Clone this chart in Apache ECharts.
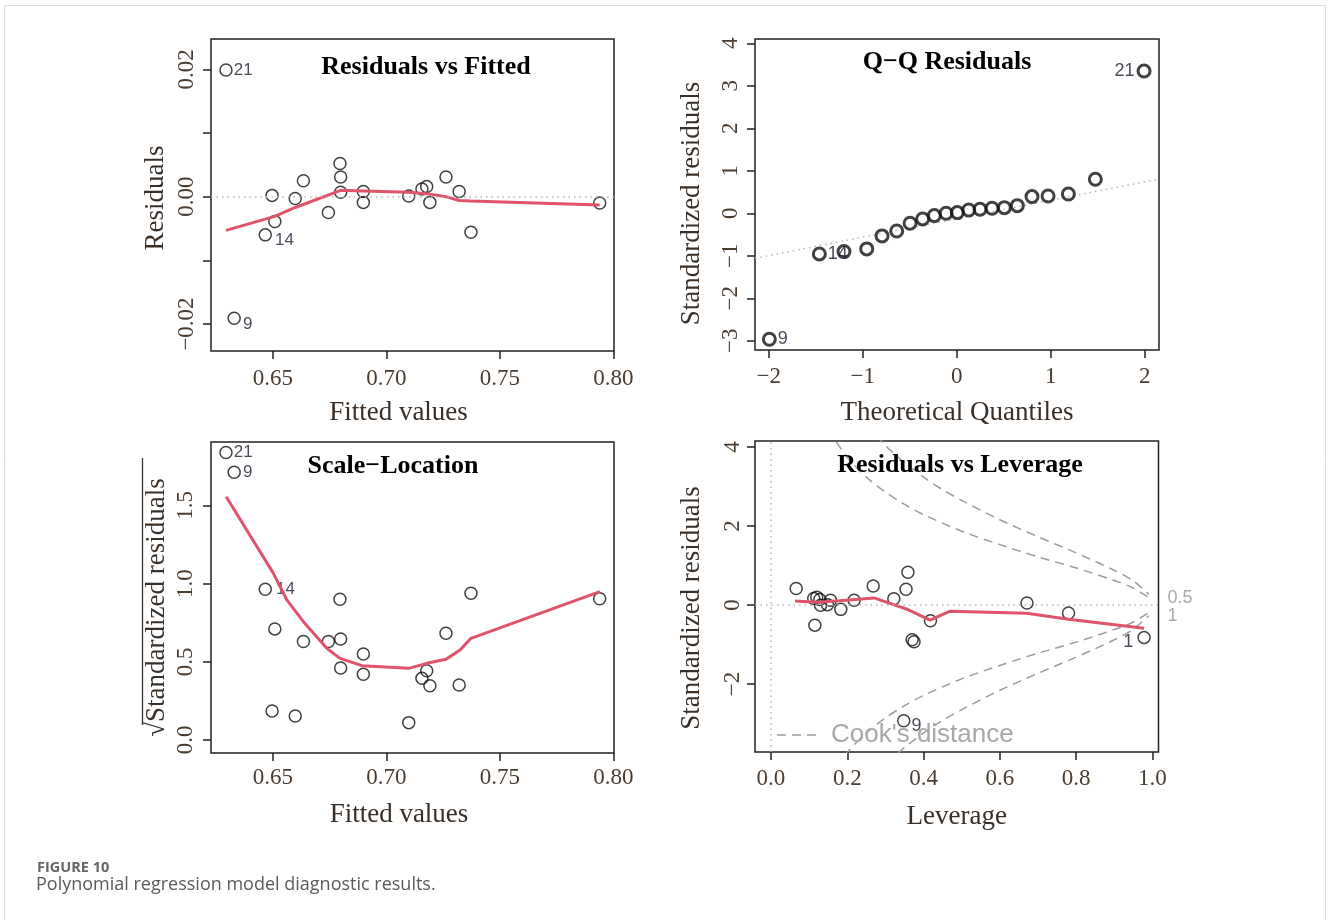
<!DOCTYPE html>
<html>
<head>
<meta charset="utf-8">
<title>Polynomial regression model diagnostic results</title>
<script src="https://cdn.jsdelivr.net/npm/echarts@6.0.0/dist/echarts.min.js"></script>
<style>
  html, body { margin: 0; padding: 0; background: #fff; }
  #chart { width: 1328px; height: 920px; }
</style>
</head>
<body>
<div id="chart"></div>
<script>
// values
var fitted = [0.6294, 0.6330, 0.6467, 0.6497, 0.6509, 0.6599, 0.6635, 0.6745, 0.6796, 0.6799, 0.6799,
              0.6899, 0.6899, 0.7099, 0.7157, 0.7178, 0.7192, 0.7263, 0.7321, 0.7373, 0.7940];
var residuals = [0.0199, -0.0191, -0.0060, 0.0002, -0.0039, -0.0003, 0.0025, -0.0025, 0.0052, 0.0031, 0.0007,
                 0.0008, -0.0009, 0.0001, 0.0012, 0.0016, -0.0009, 0.0031, 0.0008, -0.0056, -0.0010];
var sqrtStdResid = [1.837, 1.711, 0.963, 0.185, 0.710, 0.153, 0.629, 0.629, 0.899, 0.646, 0.460,
                    0.550, 0.420, 0.111, 0.394, 0.443, 0.347, 0.682, 0.352, 0.938, 0.903];
var fittedIds = ['21', '9', '14', '', '', '', '', '', '', '', '', '', '', '', '', '', '', '', '', '', ''];

var resSmoothX = [0.6294, 0.6509, 0.6599, 0.6799, 0.6899, 0.7099, 0.7192, 0.7263, 0.7321, 0.7373, 0.7940];
var resSmoothY = [-0.0053, -0.0031, -0.0017, 0.0010, 0.0009, 0.0007, 0.0004, 0.0000, -0.0006, -0.0007, -0.0013];

var slSmoothX = [0.6295, 0.6503, 0.6562, 0.6635, 0.6738, 0.6796, 0.6893, 0.7099, 0.7178, 0.7263, 0.7325, 0.7373, 0.7941];
var slSmoothY = [1.555, 1.065, 0.895, 0.756, 0.586, 0.522, 0.475, 0.458, 0.490, 0.516, 0.575, 0.650, 0.948];

var qqTheoretical = [-1.993, -1.461, -1.199, -0.957, -0.794, -0.638, -0.496, -0.362, -0.238, -0.113, 0.007,
                     0.128, 0.248, 0.376, 0.507, 0.645, 0.801, 0.972, 1.188, 1.475, 1.993];
var qqStdResid = [-2.965, -0.957, -0.902, -0.839, -0.533, -0.416, -0.235, -0.133, -0.055, 0.000, 0.016,
                  0.078, 0.094, 0.118, 0.133, 0.180, 0.392, 0.408, 0.455, 0.800, 3.349];
var qqIds = ['9', '14', '', '', '', '', '', '', '', '', '', '', '', '', '', '', '', '', '', '', '21'];
var qqLineX = [-2.146, 2.152];
var qqLineY = [-1.059, 0.806];

var leverage = [0.066, 0.112, 0.120, 0.128, 0.115, 0.130, 0.148, 0.156, 0.183, 0.218, 0.268,
                0.322, 0.354, 0.359, 0.370, 0.375, 0.348, 0.418, 0.671, 0.780, 0.978];
var levStdResid = [0.42, 0.165, 0.20, 0.14, -0.51, -0.005, 0.01, 0.12, -0.11, 0.12, 0.48,
                   0.16, 0.40, 0.83, -0.88, -0.93, -2.93, -0.40, 0.05, -0.20, -0.82];
var levIds = ['', '', '', '', '', '', '', '', '', '', '', '', '', '', '', '', '9', '', '', '', '1'];
var levSmoothX = [0.063, 0.12, 0.18, 0.27, 0.355, 0.417, 0.468, 0.67, 0.78, 0.978];
var levSmoothY = [0.10, 0.07, 0.11, 0.18, -0.10, -0.38, -0.16, -0.21, -0.36, -0.59];

// Cook's distance contours (0.5 and 1)
var cook05H = [0.15, 0.2, 0.25, 0.3, 0.35, 0.4, 0.5, 0.6, 0.7, 0.8, 0.9, 0.95, 0.99];
var cook05Up = [4.45, 3.74, 3.24, 2.86, 2.55, 2.29, 1.87, 1.53, 1.22, 0.94, 0.62, 0.43, 0.19];
var cook05Down = [-4.45, -3.74, -3.24, -2.86, -2.55, -2.29, -1.87, -1.53, -1.22, -0.94, -0.62, -0.43, -0.19];
var cook1H = [0.25, 0.3, 0.35, 0.4, 0.45, 0.5, 0.6, 0.7, 0.8, 0.9, 0.95, 0.99];
var cook1Up = [4.58, 4.04, 3.61, 3.24, 2.92, 2.65, 2.16, 1.73, 1.32, 0.88, 0.61, 0.27];
var cook1Down = [-4.58, -4.04, -3.61, -3.24, -2.92, -2.65, -2.16, -1.73, -1.32, -0.88, -0.61, -0.27];
var cookLabelAt = [0.18, -0.28];
var cookLabelText = ['0.5', '1'];

// tick values
var fittedTicks = [0.65, 0.70, 0.75, 0.80];
var residTicks = [-0.02, -0.01, 0, 0.01, 0.02];
var residLabels = [-0.02, 0, 0.02];
var qqXTicks = [-2, -1, 0, 1, 2];
var qqYTicks = [-3, -2, -1, 0, 1, 2, 3, 4];
var slYTicks = [0, 0.5, 1.0, 1.5];
var levXTicks = [0, 0.2, 0.4, 0.6, 0.8, 1.0];
var levYTicks = [-2, 0, 2, 4];

var SERIF = '"Liberation Serif", "Times New Roman", serif';
var SANS = '"Liberation Sans", Arial, sans-serif';
var CAPTION = '"Open Sans", "Noto Sans", sans-serif';
var RED = '#DF536B';
var TICK_COLOR = '#4b3c30';
var NAME_COLOR = '#3a3028';

function zip(xs, ys) {
    return xs.map(function (x, i) { return [x, ys[i]]; });
}

function fmt(digits) {
    return function (v) { return v.toFixed(digits).replace('-', '\u2212'); };
}

function pointData(xs, ys, ids, spots) {
    return xs.map(function (x, i) {
        var item = { value: [x, ys[i]] };
        var s = spots[ids[i]];
        if (ids[i] && s) {
            item.name = ids[i];
            item.label = { show: true, position: s[0], distance: s[1], offset: [0, s[2]] };
        }
        return item;
    });
}

function makeAxis(opt) {
    var isY = opt.dim === 'y';
    return {
        gridIndex: opt.grid,
        type: 'value',
        min: opt.min,
        max: opt.max,
        position: isY ? 'left' : 'bottom',
        axisLine: { show: false, onZero: false },
        splitLine: { show: false },
        axisTick: {
            show: true, inside: false, length: 8,
            customValues: opt.ticks,
            lineStyle: { color: '#222', width: 1.5 }
        },
        axisLabel: {
            customValues: opt.labels || opt.ticks,
            formatter: fmt(opt.digits),
            rotate: isY ? 90 : 0,
            margin: opt.margin,
            fontFamily: SERIF,
            fontSize: 23,
            color: TICK_COLOR
        },
        name: opt.name,
        nameLocation: 'middle',
        nameGap: opt.nameGap,
        nameRotate: isY ? 90 : 0,
        nameTextStyle: {
            fontFamily: SERIF,
            fontSize: 27,
            color: NAME_COLOR,
            padding: opt.namePad || 0
        }
    };
}

function scatter(ax, xs, ys, ids, spots, thick, labelSize) {
    return {
        type: 'scatter',
        xAxisIndex: ax, yAxisIndex: ax,
        symbol: 'circle',
        symbolSize: 12,
        silent: true,
        z: 3,
        itemStyle: { color: 'rgba(0,0,0,0)', borderColor: '#111', borderWidth: thick },
        label: { show: false, formatter: '{b}', color: '#161b2e', fontFamily: SANS, fontSize: labelSize },
        data: pointData(xs, ys, ids, spots)
    };
}

function redLine(ax, xs, ys) {
    return {
        type: 'line', xAxisIndex: ax, yAxisIndex: ax,
        symbol: 'none', silent: true, z: 4,
        lineStyle: { color: RED, width: 3 },
        data: zip(xs, ys)
    };
}

function cookLine(xs, ys) {
    return {
        type: 'line', xAxisIndex: 3, yAxisIndex: 3,
        symbol: 'none', silent: true, smooth: 0.3, clip: true, z: 2,
        lineStyle: { color: '#9c9c9c', width: 1.5, type: [9, 6] },
        data: zip(xs, ys)
    };
}

var dotted = { color: '#b5b5b5', width: 1.5, type: [1.5, 4] };

function refLines(list) {
    return { silent: true, symbol: 'none', label: { show: false }, lineStyle: dotted, data: list };
}

function titleAt(text, cx, cy) {
    return {
        text: text, left: cx, top: cy - 14, textAlign: 'center', padding: 0,
        textStyle: { fontFamily: SERIF, fontWeight: 'bold', fontSize: 26, color: '#000' }
    };
}

var gridStyle = { show: true, borderColor: '#222', borderWidth: 1.5, backgroundColor: 'transparent', outerBoundsMode: 'none', containLabel: false };

var option = {
    animation: false,
    backgroundColor: '#fff',
    title: [
        titleAt('Residuals vs Fitted', 426, 68),
        titleAt('Q\u2212Q Residuals', 947, 63),
        titleAt('Scale\u2212Location', 393, 467),
        titleAt('Residuals vs Leverage', 960, 466),
        {
            text: 'FIGURE 10', left: 37, top: 860, padding: 0,
            textStyle: { fontFamily: CAPTION, fontWeight: 'bold', fontSize: 14.5, color: '#666' }
        },
        {
            text: 'Polynomial regression model diagnostic results.', left: 36, top: 876, padding: 0,
            textStyle: { fontFamily: CAPTION, fontWeight: 'normal', fontSize: 18, color: '#5a5a5a' }
        }
    ],
    grid: [
        Object.assign({ left: 211, top: 39, width: 403, height: 312 }, gridStyle),
        Object.assign({ left: 755, top: 39, width: 404, height: 311 }, gridStyle),
        Object.assign({ left: 211, top: 442, width: 403, height: 311 }, gridStyle),
        Object.assign({ left: 755, top: 441, width: 403.5, height: 311 }, gridStyle)
    ],
    xAxis: [
        makeAxis({ dim: 'x', grid: 0, min: 0.6228, max: 0.8003, ticks: fittedTicks, digits: 2, margin: 16,
                   name: 'Fitted values', nameGap: 48, namePad: [0, 28, 0, 0] }),
        makeAxis({ dim: 'x', grid: 1, min: -2.1456, max: 2.152, ticks: qqXTicks, digits: 0, margin: 15,
                   name: 'Theoretical Quantiles', nameGap: 49 }),
        makeAxis({ dim: 'x', grid: 2, min: 0.6228, max: 0.8003, ticks: fittedTicks, digits: 2, margin: 13,
                   name: 'Fitted values', nameGap: 48, namePad: [0, 27, 0, 0] }),
        makeAxis({ dim: 'x', grid: 3, min: -0.0419, max: 1.0158, ticks: levXTicks, digits: 1, margin: 15,
                   name: 'Leverage', nameGap: 51 })
    ],
    yAxis: [
        makeAxis({ dim: 'y', grid: 0, min: -0.02424, max: 0.02476, ticks: residTicks, labels: residLabels, digits: 2,
                   margin: 13, name: 'Residuals', nameGap: 42, namePad: [0, 6, 0, 0] }),
        makeAxis({ dim: 'y', grid: 1, min: -3.218, max: 4.102, ticks: qqYTicks, digits: 0,
                   margin: 13, name: 'Standardized residuals', nameGap: 50, namePad: [0, 18, 0, 0] }),
        makeAxis({ dim: 'y', grid: 2, min: -0.0831, max: 1.9045, ticks: slYTicks, digits: 1,
                   margin: 14, name: '\u221AStandardized residuals', nameGap: 41, namePad: [0, 20, 0, 0] }),
        makeAxis({ dim: 'y', grid: 3, min: -3.723, max: 4.155, ticks: levYTicks, digits: 0,
                   margin: 11, name: 'Standardized residuals', nameGap: 50, namePad: [0, 23, 0, 0] }),
        {
            gridIndex: 3, type: 'value', position: 'right', min: -3.723, max: 4.155,
            axisLine: { show: false, onZero: false }, axisTick: { show: false }, splitLine: { show: false },
            axisLabel: {
                customValues: cookLabelAt,
                formatter: function (v) { return cookLabelText[cookLabelAt.indexOf(v)]; },
                margin: 9, fontFamily: SANS, fontSize: 18, color: '#aaaaaa'
            }
        }
    ],
    series: [
        // Residuals vs Fitted
        Object.assign(scatter(0, fitted, residuals, fittedIds,
            { '21': ['right', 1, 0], '9': ['right', 2, 6], '14': ['right', 3, 5] }, 1.5, 17),
            { markLine: refLines([{ yAxis: 0 }]) }),
        redLine(0, resSmoothX, resSmoothY),

        // Q-Q
        {
            type: 'line', xAxisIndex: 1, yAxisIndex: 1, symbol: 'none', silent: true, z: 1,
            lineStyle: dotted, data: zip(qqLineX, qqLineY)
        },
        scatter(1, qqTheoretical, qqStdResid, qqIds,
            { '21': ['left', 2, 0], '9': ['right', 1, 0], '14': ['right', 1, 0] }, 3, 18),

        // Scale-Location
        scatter(2, fitted, sqrtStdResid, fittedIds,
            { '21': ['right', 1, 0], '9': ['right', 2, 0], '14': ['right', 4, 0] }, 1.5, 17),
        redLine(2, slSmoothX, slSmoothY),

        // Residuals vs Leverage
        cookLine(cook05H, cook05Up),
        cookLine(cook05H, cook05Down),
        cookLine(cook1H, cook1Up),
        cookLine(cook1H, cook1Down),
        Object.assign(scatter(3, leverage, levStdResid, levIds,
            { '9': ['right', 1, 5], '1': ['left', 4, 5] }, 1.5, 18),
            { markLine: refLines([{ yAxis: 0 }, { xAxis: 0 }]) }),
        redLine(3, levSmoothX, levSmoothY)
    ],
    graphic: [
        {
            type: 'rect', silent: true, z: -10,
            shape: { x: 4.5, y: 5.5, width: 1321, height: 940 },
            style: { fill: 'none', stroke: '#dcdcdc', lineWidth: 1 }
        },
        {
            // overline of the square-root sign on the Scale-Location axis title
            type: 'line', silent: true,
            shape: { x1: 142.5, y1: 458, x2: 142.5, y2: 725 },
            style: { stroke: NAME_COLOR, lineWidth: 1.3 }
        },
        {
            type: 'line', silent: true,
            shape: { x1: 777, y1: 735, x2: 818, y2: 735 },
            style: { stroke: '#9c9c9c', lineWidth: 1.5, lineDash: [9, 6] }
        },
        {
            type: 'text', silent: true, z: 5,
            x: 831, y: 735,
            style: { text: "Cook's distance", fill: '#a8a8a8', font: '26px ' + SANS, verticalAlign: 'middle' }
        }
    ]
};

var chart = echarts.init(document.getElementById('chart'));
chart.setOption(option);
</script>
</body>
</html>
